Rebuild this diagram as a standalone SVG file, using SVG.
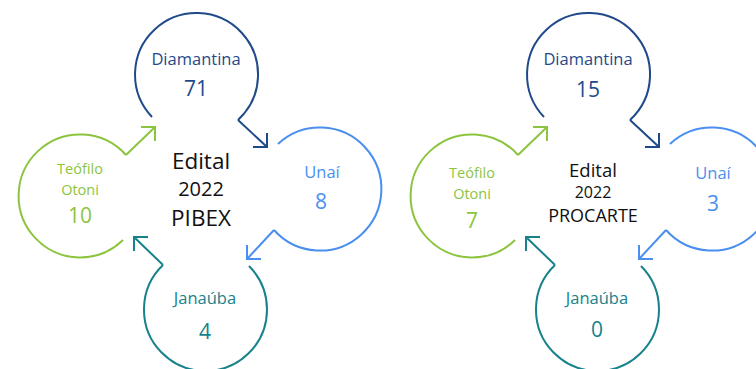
<svg xmlns="http://www.w3.org/2000/svg" width="756" height="369" viewBox="0 0 756 369">
<style>
.c{fill:none;stroke-width:2;stroke-linecap:butt;stroke-linejoin:miter}
.t{font-family:"Open Sans","DejaVu Sans",sans-serif;text-anchor:middle}
.lb{font-size:16.5px}
.lt{font-size:14.5px}
.nm{font-size:21px}
.dia{stroke:#1f4a8a}.tdia{fill:#1f4a8a}
.teo{stroke:#8cc43f}.tteo{fill:#8cc43f}
.una{stroke:#4a8ff0}.tuna{fill:#4a8ff0}
.jan{stroke:#17828b}.tjan{fill:#17828b}
.ed{fill:#111}
</style>
<rect width="756" height="369" fill="#fff"/>
<g id="connectors">
  <path class="c dia" d="M238,120 L267,147 M253,147 L267,147 L267,133"/>
  <path class="c una" d="M274,230 L247,259 M247,245 L247,259 L261,259"/>
  <path class="c jan" d="M163,265 L134,237 M148,237 L134,237 L134,251"/>
  <path class="c teo" d="M126,155 L155,127 M141,127 L155,127 L155,141"/>
  <path class="c dia" d="M630,120 L659,147 M645,147 L659,147 L659,133"/>
  <path class="c una" d="M666,230 L639,259 M639,245 L639,259 L653,259"/>
  <path class="c jan" d="M555,265 L526,237 M540,237 L526,237 L526,251"/>
  <path class="c teo" d="M518,155 L547,127 M533,127 L547,127 L547,141"/>
</g>
<g id="pibex-diamantina">
  <path class="c dia" d="M152,117 A61.5,61.5 0 1 1 238,120"/>
  <text class="t lb tdia" x="196" y="65">Diamantina</text>
  <text class="t nm tdia" x="196" y="96">71</text>
</g>
<g id="pibex-unai">
  <path class="c una" d="M278,144 A61.5,61.5 0 1 1 274,230"/>
  <text class="t lb tuna" x="322" y="178">Unaí</text>
  <text class="t nm tuna" x="321" y="209">8</text>
</g>
<g id="pibex-janauba">
  <path class="c jan" d="M249,266 A61.5,61.5 0 1 1 163,265"/>
  <text class="t lb tjan" x="205" y="304">Janaúba</text>
  <text class="t nm tjan" x="205" y="339">4</text>
</g>
<g id="pibex-teofilo">
  <path class="c teo" d="M123,240 A61.5,61.5 0 1 1 126,155"/>
  <text class="t lt tteo" x="80" y="174">Teófilo</text>
  <text class="t lt tteo" x="80" y="195">Otoni</text>
  <text class="t nm tteo" x="80" y="223">10</text>
</g>
<g id="pibex-center">
  <text class="t ed" x="201" y="169" font-size="22.5">Edital</text>
  <text class="t ed" x="201" y="196" font-size="20">2022</text>
  <text class="t ed" x="201" y="226" font-size="22.5">PIBEX</text>
</g>
<g id="procarte-diamantina">
  <path class="c dia" d="M544,117 A61.5,61.5 0 1 1 630,120"/>
  <text class="t lb tdia" x="588" y="65">Diamantina</text>
  <text class="t nm tdia" x="588" y="97">15</text>
</g>
<g id="procarte-unai">
  <path class="c una" d="M670,144 A61.5,61.5 0 1 1 666,230"/>
  <text class="t lb tuna" x="713" y="179">Unaí</text>
  <text class="t nm tuna" x="713" y="211">3</text>
</g>
<g id="procarte-janauba">
  <path class="c jan" d="M641,266 A61.5,61.5 0 1 1 555,265"/>
  <text class="t lb tjan" x="597" y="304">Janaúba</text>
  <text class="t nm tjan" x="597" y="337">0</text>
</g>
<g id="procarte-teofilo">
  <path class="c teo" d="M515,240 A61.5,61.5 0 1 1 518,155"/>
  <text class="t lt tteo" x="472" y="178">Teófilo</text>
  <text class="t lt tteo" x="472" y="199">Otoni</text>
  <text class="t nm tteo" x="472" y="228">7</text>
</g>
<g id="procarte-center">
  <text class="t ed" x="593" y="177" font-size="18.5">Edital</text>
  <text class="t ed" x="593" y="198" font-size="16">2022</text>
  <text class="t ed" x="593" y="222" font-size="18">PROCARTE</text>
</g>
</svg>
